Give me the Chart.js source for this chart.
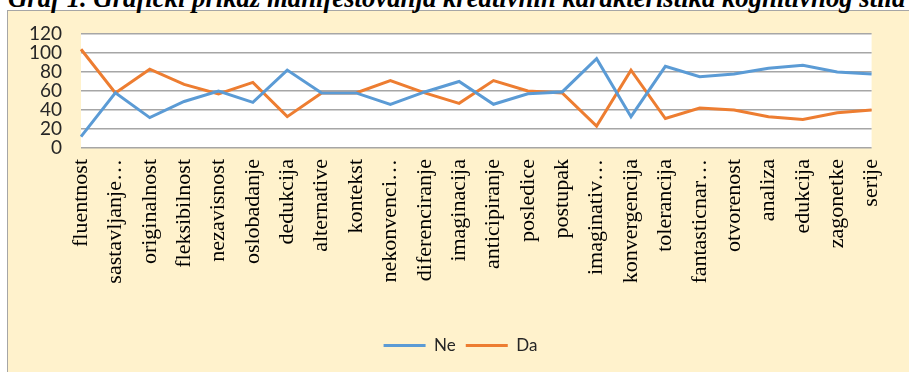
<!DOCTYPE html>
<html>
<head>
<meta charset="utf-8">
<script src="https://cdn.jsdelivr.net/npm/chart.js@4.4.1/dist/chart.umd.min.js"></script>
<style>
  html, body { margin:0; padding:0; background:#ffffff; width:909px; height:372px; overflow:hidden; position:relative; }
  #box { position:absolute; left:7px; top:10px; width:920px; height:380px; background:#FFF2CC; border-left:1px solid #A6A6A6; border-top:1px solid #A6A6A6; }
  #title { position:absolute; left:8px; top:-12px; white-space:nowrap; font-family:"Liberation Serif", serif; font-weight:bold; font-style:italic; font-size:22px; line-height:22px; color:#000; }
  #wrap { position:absolute; left:0; top:0; width:909px; height:372px; }
</style>
</head>
<body>
<div id="box"></div>
<div id="title">Graf 1. Grafički prikaz manifestovanja kreativnih karakteristika kognitivnog stila</div>
<div id="wrap"><canvas id="c" width="909" height="372"></canvas></div>
<script>
const categories = ["fluentnost","sastavljanje…","originalnost","fleksibilnost","nezavisnost","oslobadanje","dedukcija","alternative","kontekst","nekonvenci…","diferenciranje","imaginacija","anticipiranje","posledice","postupak","imaginativ…","konvergencija","tolerancija","fantasticnar…","otvorenost","analiza","edukcija","zagonetke","serije"];
const neValues = [12,58,32,49,60,48,82,58,58,46,59,70,46,57,59,94,33,86,75,78,84,87,80,78];
const daValues = [104,58,83,67,57,69,33,58,58,71,58,47,71,60,58,23,82,31,42,40,33,30,37,40];
const seriesNames = ["Ne","Da"];
const yTicks = [0,20,40,60,80,100,120];

// fit title width
(function(){
  const t = document.getElementById('title');
  const w = t.getBoundingClientRect().width;
  const target = 898;
  const fs = 22 * target / w;
  t.style.fontSize = fs + 'px';
  t.style.lineHeight = fs + 'px';
  t.style.top = (7 - 0.8375*fs) + 'px';
})();

const plotBg = {
  id: 'plotBg',
  beforeDraw(chart) {
    const a = chart.chartArea, ctx = chart.ctx;
    ctx.save();
    ctx.fillStyle = '#FFFFFF';
    ctx.fillRect(a.left, a.top, a.right - a.left, a.bottom - a.top);
    ctx.restore();
  }
};

new Chart(document.getElementById('c'), {
  type: 'line',
  data: {
    labels: categories,
    datasets: [
      { label: seriesNames[0], data: neValues, borderColor: '#5B9BD5', backgroundColor: '#5B9BD5', borderWidth: 3, pointRadius: 0, tension: 0 },
      { label: seriesNames[1], data: daValues, borderColor: '#ED7D31', backgroundColor: '#ED7D31', borderWidth: 3, pointRadius: 0, tension: 0 }
    ]
  },
  options: {
    responsive: false,
    animation: false,
    devicePixelRatio: 1,
    layout: { padding: { left: 26, right: 14, top: 34, bottom: 8 } },
    plugins: {
      legend: {
        position: 'bottom',
        labels: {
          usePointStyle: true, pointStyle: 'line', pointStyleWidth: 42,
          font: { family: 'Lato', size: 17 }, color: '#262626', padding: 10
        }
      },
      tooltip: { enabled: false }
    },
    scales: {
      x: {
        grid: { display: false, drawTicks: false },
        border: { display: false },
        ticks: {
          autoSkip: false, maxRotation: 90, minRotation: 90, padding: 11,
          font: { family: 'Liberation Serif', size: 22 }, color: '#000000'
        },
        afterFit(s) { s.height = 179; }
      },
      y: {
        min: 0, max: 120,
        afterBuildTicks(s) { s.ticks = yTicks.map(v => ({ value: v })); },
        grid: { color: '#A6A6A6', lineWidth: 1.5, drawTicks: false },
        border: { display: false },
        ticks: { autoSkip: false, padding: 19, font: { family: 'Lato', size: 19 }, color: '#262626' },
        afterFit(s) { s.width = 55; }
      }
    }
  },
  plugins: [plotBg]
});
</script>
</body>
</html>
